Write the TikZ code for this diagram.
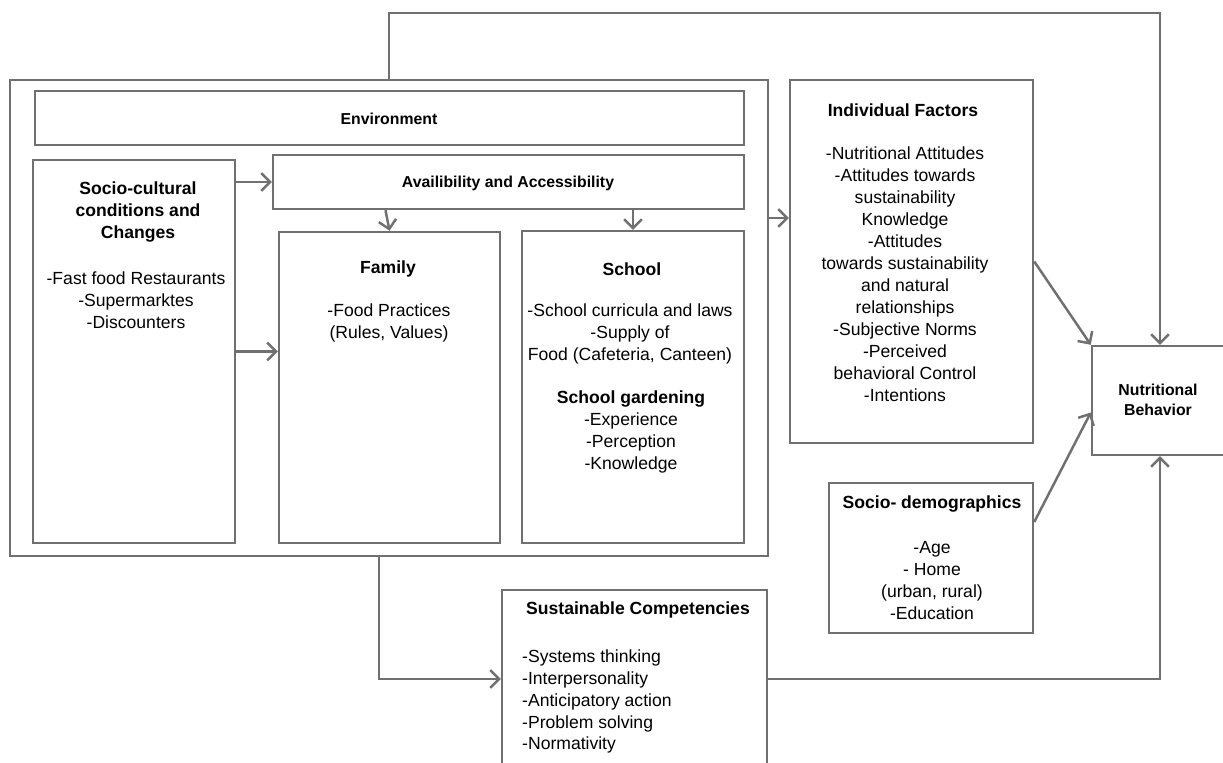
\documentclass[tikz,border=0pt]{standalone}
\usepackage{fontspec}
\setmainfont{Liberation Sans}
\usetikzlibrary{arrows.meta,calc}
\definecolor{linegray}{RGB}{112,112,112}
\begin{document}
\begin{tikzpicture}[x=0.02cm,y=-0.02cm]
\tikzstyle{box}=[draw=linegray,line width=1.4pt,rectangle,inner sep=0pt]
\tikzstyle{ttl}=[align=center,font=\bfseries\fontsize{10}{12.5}\selectfont]
\tikzstyle{sttl}=[align=center,font=\bfseries\fontsize{9}{11.5}\selectfont]
\tikzstyle{txt}=[align=center,font=\fontsize{10}{12.5}\selectfont]
\tikzstyle{arr}=[draw=linegray,line width=1.4pt,-{Straight Barb[length=5pt,width=10pt]}]
\useasboundingbox (0,0) rectangle (1223,763);
% boxes: name / centre / width / height (px)
\foreach \name/\point/\bw/\bh in {
	outer/{389,318}/758/476,
	env/{389.5,118}/709/54,
	soc/{134,351.5}/202/383,
	avail/{508.5,182}/471/54,
	fam/{389.5,387.5}/221/311,
	sch/{633,387}/222/312,
	ind/{911.5,261.5}/243/363,
	nut/{1160,400.5}/136/109,
	demo/{931,558}/204/150,
	sus/{634.5,690}/265/200}
	\node[box,minimum width=\bw*0.02cm,minimum height=\bh*0.02cm] (\name) at (\point) {};
% texts
\node[sttl] (envT) at (389,119) {Environment};
\node[sttl] (availT) at (508,183) {Availibility and Accessibility};
\node[ttl] (socT) at (138,212) {Socio-cultural\\conditions and\\Changes};
\node[txt] (socB) at (136,300) {-Fast food Restaurants\\-Supermarktes\\-Discounters};
\node[ttl] (famT) at (388,269) {Family};
\node[txt] (famB) at (389,323) {-Food Practices\\(Rules, Values)};
\node[ttl] (schT) at (632,269) {School};
\node[txt] (schB) at (630,333.5) {-School curricula and laws\\-Supply of\\Food (Cafeteria, Canteen)};
\node[ttl] (gardT) at (631,399) {School gardening};
\node[txt] (gardB) at (631,443) {-Experience\\-Perception\\-Knowledge};
\node[ttl] (indT) at (903,110) {Individual Factors};
\node[txt] (indB) at (905,274) {-Nutritional Attitudes\\-Attitudes towards\\sustainability\\Knowledge\\-Attitudes\\towards sustainability\\and natural\\relationships\\-Subjective Norms\\-Perceived\\behavioral Control\\-Intentions};
\node[sttl] (nutT) at (1158,400) {Nutritional\\Behavior};
\node[ttl] (demoT) at (932,504) {Socio- demographics};
\node[txt] (demoB) at (932,580.5) {-Age\\- Home\\(urban, rural)\\-Education};
\node[ttl] (susT) at (638,610) {Sustainable Competencies};
\node[txt,align=left,anchor=west] (susB) at (516,701.5) {-Systems thinking\\-Interpersonality\\-Anticipatory action\\-Problem solving\\-Normativity};
% connectors
\coordinate (top) at (1160,13);
\draw[arr] (outer.north) |- (top) -- (nut.north);
\draw[arr] (soc.east |- avail.west) -- (avail.west);
\draw[arr] (soc.east) -- (soc.east -| fam.west);
\draw[arr] ($(avail.south -| fam.north)+(-4,0)$) -- (fam.north);
\draw[arr] (avail.south -| sch.north) -- (sch.north);
\draw[arr] ($(outer.east)+(0,-100)$) coordinate (oe) -- (oe -| ind.west);
\draw[arr] (ind.east) -- (nut.north west);
\draw[arr] ($(demo.east)+(0,-36)$) -- ($(nut.west)+(0,12)$);
\draw[arr] ($(outer.south)+(-10,0)$) |- ($(sus.west)+(0,-11)$);
\draw[arr] ($(sus.east)+(0,-11)$) -| (nut.south);
\end{tikzpicture}
\end{document}
